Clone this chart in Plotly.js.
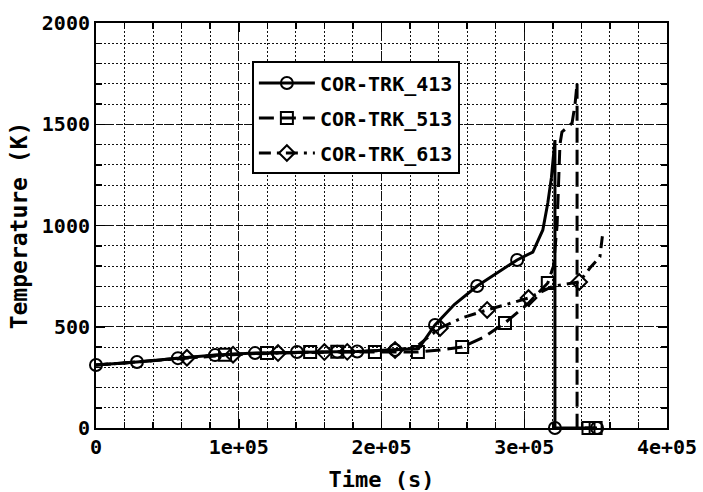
<!DOCTYPE html>
<html><head><meta charset="utf-8">
<script src="https://cdn.plot.ly/plotly-3.0.1.min.js"></script>
<style>html,body{margin:0;padding:0;background:#fff}#chart{width:703px;height:492px}</style>
</head><body><div id="chart"></div>
<script>
// Series names
const seriesNames = ["COR-TRK_413", "COR-TRK_513", "COR-TRK_613"];

// Curve data (time s, temperature K)
const t413 = [0, 28700, 57400, 83400, 111400, 140800, 169000, 183000, 209500, 226000, 237500, 251000, 267000, 281000, 295000, 306000, 313000, 316500, 319000, 321500, 321500, 351000];
const T413 = [311, 326, 345, 360, 370, 375, 377, 378, 385, 392, 509, 610, 701, 765, 830, 869, 978, 1111, 1235, 1422, 0, 0];

const t513 = [0, 28700, 57400, 90400, 119800, 150000, 169000, 195400, 225500, 241000, 256500, 272000, 286500, 302000, 316500, 320500, 323000, 325000, 326400, 330600, 333500, 335600, 337000, 337000, 350000];
const T513 = [311, 326, 345, 362, 370, 375, 376, 375, 375, 385, 400, 450, 519, 610, 716, 800, 1000, 1400, 1462, 1487, 1506, 1600, 1704, 0, 0];

const t613 = [0, 28700, 63700, 96000, 127500, 160000, 176000, 209500, 224000, 241000, 257000, 274000, 290000, 303000, 320000, 338500, 346000, 353000, 355000];
const T613 = [311, 326, 347, 362, 370, 375, 376, 385, 400, 494, 545, 583, 615, 642, 700, 721, 790, 845, 963];

// Marker positions along each curve
const mt413 = [0, 28700, 57400, 83400, 111400, 140800, 169000, 183000, 209500, 237500, 267000, 295000, 321500, 351000];
const mT413 = [311, 326, 345, 360, 370, 375, 377, 378, 385, 509, 701, 830, 0, 0];

const mt513 = [90400, 119800, 150000, 169000, 195400, 225500, 256500, 286500, 316500, 345000, 350000];
const mT513 = [362, 370, 375, 376, 375, 375, 400, 519, 716, 0, 0];

const mt613 = [63700, 96000, 127500, 160000, 176000, 209500, 241000, 274000, 303000, 338500];
const mT613 = [347, 362, 370, 375, 376, 385, 494, 583, 642, 721];

// Axis ticks
const xTickVals = [0, 100000, 200000, 300000, 400000];
const xTickText = ["0", "1e+05", "2e+05", "3e+05", "4e+05"];
const yTickVals = [0, 500, 1000, 1500, 2000];
const yTickText = ["0", "500", "1000", "1500", "2000"];

const FONT = "DejaVu Sans Mono, monospace";
const styles = [
  {dash: "solid", symbol: "circle-open"},
  {dash: "15px,7px", symbol: "square-open"},
  {dash: "12px,6px,3px,6px", symbol: "diamond-open"}
];
const lineX = [t413, t513, t613], lineY = [T413, T513, T613];
const markX = [mt413, mt513, mt613], markY = [mT413, mT513, mT613];

const traces = [];
for (let i = 0; i < 3; i++) {
  traces.push({x: lineX[i], y: lineY[i], mode: "lines", showlegend: false, hoverinfo: "skip",
    legendgroup: "g" + i, line: {color: "#000", width: 3, dash: styles[i].dash}});
  traces.push({x: markX[i], y: markY[i], mode: "markers", showlegend: false, cliponaxis: false,
    legendgroup: "g" + i,
    marker: {symbol: styles[i].symbol, size: 12, color: "#000", line: {width: 2, color: "#000"}}});
}
for (let i = 0; i < 3; i++) {
  traces.push({x: [null], y: [null], mode: "lines+markers", name: seriesNames[i], showlegend: true,
    legendgroup: "g" + i,
    line: {color: "#000", width: 3, dash: styles[i].dash},
    marker: {symbol: styles[i].symbol, size: 12, color: "#000", line: {width: 2, color: "#000"}}});
}

const axisCommon = {
  showline: true, linecolor: "#000", linewidth: 2, mirror: "allticks",
  ticks: "inside", ticklen: 9, tickwidth: 1.5, tickcolor: "#000",
  showgrid: true, gridcolor: "#111", gridwidth: 1, griddash: "7px,3px",
  zeroline: false, tickfont: {family: FONT, size: 20, color: "#000", weight: "bold"}
};

const layout = {
  width: 703, height: 492,
  margin: {l: 96, r: 36, t: 23, b: 64},
  paper_bgcolor: "#fff", plot_bgcolor: "#fff",
  font: {family: FONT, color: "#000"},
  xaxis: Object.assign({}, axisCommon, {
    range: [0, 400000], tickmode: "array", tickvals: xTickVals, ticktext: xTickText,
    minor: {dtick: 20000, tick0: 0, showgrid: true, gridcolor: "#111", gridwidth: 1, griddash: "2px,2px",
            ticks: "inside", ticklen: 6, tickcolor: "#000"},
    title: {text: "Time (s)", font: {family: FONT, size: 22, color: "#000", weight: "bold"}, standoff: 14}
  }),
  yaxis: Object.assign({}, axisCommon, {
    range: [0, 2000], tickmode: "array", tickvals: yTickVals, ticktext: yTickText,
    minor: {dtick: 100, tick0: 0, showgrid: true, gridcolor: "#111", gridwidth: 1, griddash: "2px,2px",
            ticks: "inside", ticklen: 6, tickcolor: "#000"},
    title: {text: "Temperature (K)", font: {family: FONT, size: 23, color: "#000", weight: "bold"}, standoff: 8}
  }),
  legend: {x: 0.273, y: 0.905, xanchor: "left", yanchor: "top", bgcolor: "#fff",
    bordercolor: "#000", borderwidth: 2, itemwidth: 56, tracegroupgap: 6,
    font: {family: FONT, size: 20, color: "#000", weight: "bold"}},
  showlegend: true
};

Plotly.newPlot("chart", traces, layout, {displayModeBar: false, staticPlot: true});
</script>
</body></html>
